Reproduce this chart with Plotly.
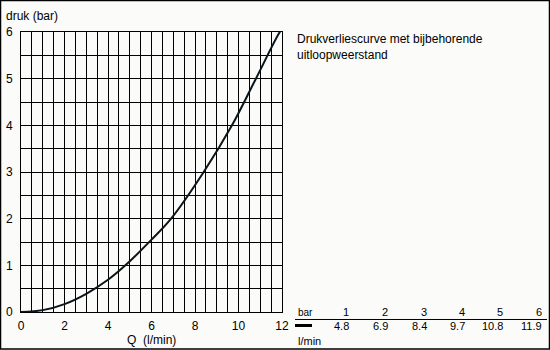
import plotly.graph_objects as go

# Table values (pressure in bar vs flow in l/min)
table_bar = [1, 2, 3, 4, 5, 6]
table_flow = [4.8, 6.9, 8.4, 9.7, 10.8, 11.9]

# Curve
curve_q = [0, 1, 2, 3, 4, 4.8, 6, 6.9, 8.4, 9.7, 10.8, 11.9, 12.0]
curve_p = [0, 0.04, 0.17, 0.39, 0.69, 1.0, 1.55, 2.0, 3.0, 4.0, 5.0, 6.0, 6.05]

x_ticks = [0, 2, 4, 6, 8, 10, 12]
y_ticks = [0, 1, 2, 3, 4, 5, 6]

W, H = 550, 350
L, R, T, B = 21, 282, 32, 312.5
FONT = "Liberation Sans, Arial, sans-serif"


def px(x):
    return (x - L) / (R - L)


def py(y):
    return (B - y) / (B - T)


fig = go.Figure()
fig.add_trace(go.Scatter(
    x=curve_q, y=curve_p, mode="lines",
    line=dict(color="#0b1418", width=2, shape="spline"),
    hoverinfo="skip", showlegend=False, cliponaxis=True,
))

axis_common = dict(
    showline=True, linecolor="black", linewidth=1, mirror=True,
    showgrid=True, gridcolor="black", gridwidth=1,
    zeroline=False, ticks="", automargin=False,
    tickfont=dict(family=FONT, size=12, color="black"),
    minor=dict(dtick=0.5, showgrid=True, gridcolor="black", gridwidth=1),
)

fig.update_xaxes(range=[0, 12], tickvals=x_ticks, ticktext=[str(v) for v in x_ticks],
                 ticklabelstandoff=3, **axis_common)
fig.update_yaxes(range=[0, 6], tickvals=y_ticks, ticktext=[str(v) for v in y_ticks],
                 ticklabelstandoff=5, **axis_common)

annotations = [
    dict(text="druk (bar)", x=px(4), y=py(16), xanchor="left", yanchor="middle",
         font=dict(family=FONT, size=12, color="black")),
    dict(text="Q  (l/min)", x=px(151), y=py(341), xanchor="center", yanchor="middle",
         font=dict(family=FONT, size=12, color="black")),
    dict(text="Drukverliescurve met bijbehorende", x=px(295), y=py(39), xanchor="left", yanchor="middle",
         font=dict(family=FONT, size=12, color="black")),
    dict(text="uitloopweerstand", x=px(295), y=py(55), xanchor="left", yanchor="middle",
         font=dict(family=FONT, size=12, color="black")),
    dict(text="bar", x=px(296), y=py(313), xanchor="left", yanchor="middle",
         font=dict(family=FONT, size=10, color="black")),
    dict(text="l/min", x=px(296), y=py(342), xanchor="left", yanchor="middle",
         font=dict(family=FONT, size=11, color="black")),
]
col_right = [351, 390, 429, 467, 505, 544]
for xr, b, f in zip(col_right, table_bar, table_flow):
    annotations.append(dict(text=str(b), x=px(xr), y=py(313), xanchor="right", yanchor="middle",
                            font=dict(family=FONT, size=11, color="black")))
    annotations.append(dict(text=str(f), x=px(xr), y=py(327), xanchor="right", yanchor="middle",
                            font=dict(family=FONT, size=11, color="black")))
for a in annotations:
    a.update(xref="paper", yref="paper", showarrow=False)

shapes = [
    # outer frame
    dict(type="rect", xref="paper", yref="paper", x0=px(0.5), x1=px(549.5), y0=py(0.5), y1=py(349.5),
         line=dict(color="black", width=1.5)),
    # table rule
    dict(type="line", xref="paper", yref="paper", x0=px(295), x1=px(547), y0=py(320), y1=py(320),
         line=dict(color="black", width=1)),
    # legend swatch
    dict(type="line", xref="paper", yref="paper", x0=px(295), x1=px(312), y0=py(326), y1=py(326),
         line=dict(color="black", width=3)),
]

fig.update_layout(
    width=W, height=H, autosize=False,
    margin=dict(l=L, r=W - R, t=T, b=H - B, pad=0),
    paper_bgcolor="#fbfbf9", plot_bgcolor="#fbfbf9",
    annotations=annotations, shapes=shapes,
    font=dict(family=FONT, color="black"),
)

fig.write_html("out.html")
